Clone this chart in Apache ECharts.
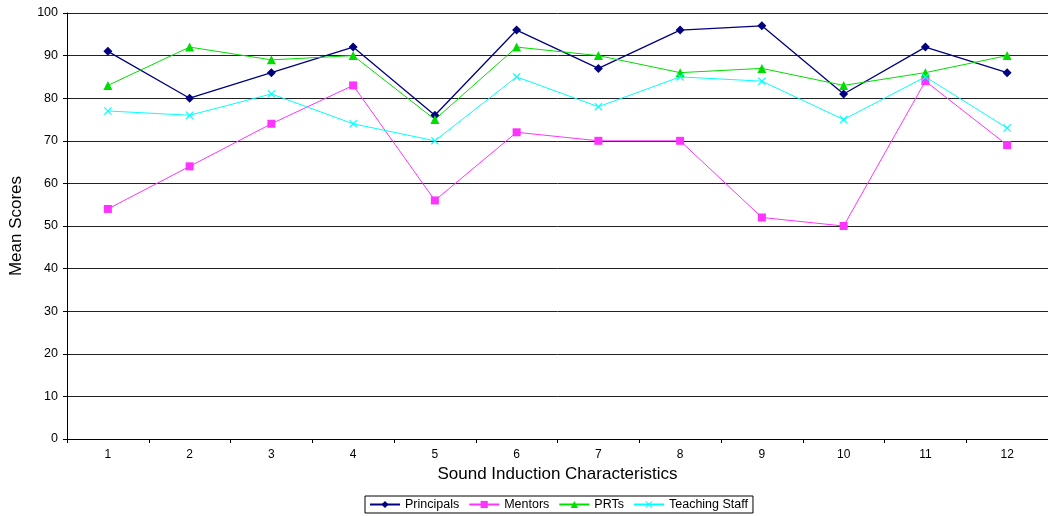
<!DOCTYPE html>
<html><head><meta charset="utf-8">
<script src="https://cdn.jsdelivr.net/npm/echarts@6/dist/echarts.min.js"></script>
<style>html,body{margin:0;padding:0;background:#fff}#c{width:1048px;height:516px}</style>
</head><body><div id="c"></div>
<script>
const categories = ['1','2','3','4','5','6','7','8','9','10','11','12'];
const principals = [91,80,86,92,76,96,87,96,97,81,92,86];
const mentors = [54,64,74,83,56,72,70,70,52,50,84,69];
const prts = [83,92,89,90,75,92,90,86,87,83,86,90];
const teachingStaff = [77,76,81,74,70,85,78,85,84,75,85,73];
const seriesNames = ['Principals','Mentors','PRTs','Teaching Staff'];

const xPath = 'path://M1,0L5,4L9,0L10,1L6,5L10,9L9,10L5,6L1,10L0,9L4,5L0,1Z';
const font = '"Liberation Sans", Arial, sans-serif';

const chart = echarts.init(document.getElementById('c'));
function mk(name, data, color, symbol, size, lw) {
  return {name, type:'line', data, symbol, symbolSize:size, showSymbol:true,
    lineStyle:{color, width:lw}, itemStyle:{color, borderWidth:0}, animation:false,
    emphasis:{disabled:true}};
}
chart.setOption({
  animation:false,
  grid:{left:67, right:-5, top:13, bottom:77, containLabel:false},
  xAxis:{type:'category', data:categories, boundaryGap:true,
    name:'Sound Induction Characteristics', nameLocation:'middle', nameGap:25,
    nameTextStyle:{fontFamily:font, fontSize:17, color:'#000'},
    axisLine:{lineStyle:{color:'#000', width:1}},
    axisTick:{show:true, length:4, inside:false, lineStyle:{color:'#000'}},
    axisLabel:{fontFamily:font, fontSize:12, color:'#000', margin:10},
    splitLine:{show:false}},
  yAxis:{type:'value', min:0, max:100, interval:10,
    name:'Mean Scores', nameLocation:'middle', nameGap:42,
    nameTextStyle:{fontFamily:font, fontSize:17, color:'#000'},
    axisLine:{show:true, lineStyle:{color:'#000', width:1}},
    axisTick:{show:true, length:4, inside:false, lineStyle:{color:'#000'}},
    axisLabel:{fontFamily:font, fontSize:12.5, color:'#000', margin:9},
    splitLine:{show:true, lineStyle:{color:'#222', width:1}}},
  legend:{top:496, left:365, itemWidth:30, itemHeight:9, itemGap:9,
    borderColor:'#000', borderWidth:1, padding:[2,5,2,4],
    textStyle:{fontFamily:font, fontSize:12.5, color:'#000'},
    data:seriesNames},
  series:[
    mk(seriesNames[0], principals, '#000080', 'diamond', 9, 1.3),
    mk(seriesNames[1], mentors, '#FF33FF', 'rect', 8, 1),
    mk(seriesNames[2], prts, '#00DD00', 'triangle', 9, 1),
    mk(seriesNames[3], teachingStaff, '#00FFFF', xPath, 8, 1)
  ]
});
</script></body></html>
